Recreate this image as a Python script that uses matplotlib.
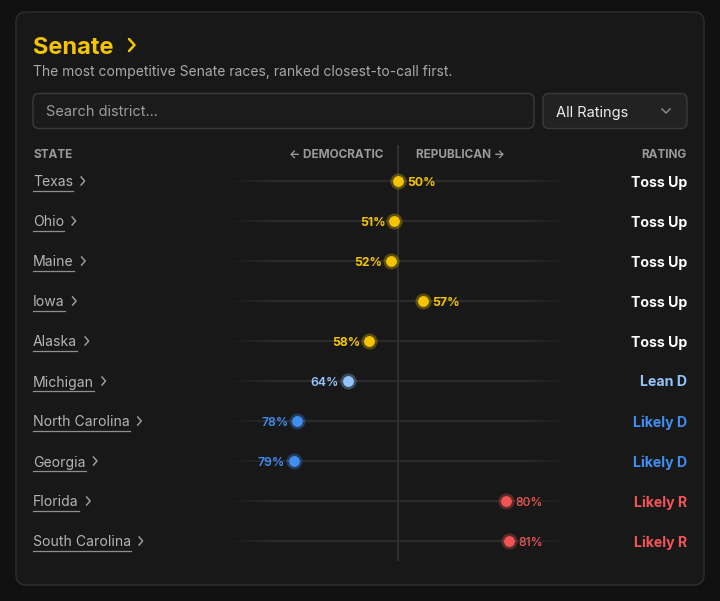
import numpy as np
import matplotlib
matplotlib.use('Agg')
import matplotlib.pyplot as plt
from matplotlib.patches import FancyBboxPatch
from matplotlib.collections import LineCollection

plt.rcParams['font.family'] = ['Inter', 'DejaVu Sans']

states = ['Texas', 'Ohio', 'Maine', 'Iowa', 'Alaska', 'Michigan',
          'North Carolina', 'Georgia', 'Florida', 'South Carolina']
probs = [50, 51, 52, 57, 58, 64, 78, 79, 80, 81]
sides = ['R', 'D', 'D', 'R', 'D', 'D', 'D', 'D', 'R', 'R']
ratings = ['Toss Up', 'Toss Up', 'Toss Up', 'Toss Up', 'Toss Up',
           'Lean D', 'Likely D', 'Likely D', 'Likely R', 'Likely R']

colors = {'Toss Up': '#f5c400', 'Lean D': '#93c5fd',
          'Likely D': '#3f8ef2', 'Likely R': '#f25454'}
text_col = {'Toss Up': '#ffffff', 'Lean D': '#93c5fd',
            'Likely D': '#3f8ef2', 'Likely R': '#f25454'}

BG = '#111111'
CARD = '#181818'

W, H = 720, 601
fig = plt.figure(figsize=(W / 100, H / 100), dpi=100, facecolor=BG)

# page / card layer in pixel units (y grows downward)
bg = fig.add_axes([0, 0, 1, 1])
bg.set_xlim(0, W)
bg.set_ylim(H, 0)
bg.axis('off')

bg.add_patch(FancyBboxPatch((16, 12), 688, 573, boxstyle='round,pad=0,rounding_size=10',
                            fc=CARD, ec='#2e2e2e', lw=1))

bg.text(33, 54, 'Senate', color='#f5c400', fontsize=17, fontweight='bold', va='baseline')
bg.plot([129, 134.5, 129], [39, 45, 51], color='#f5c400', lw=1.8, solid_capstyle='round',
        solid_joinstyle='round')
bg.text(33, 76, 'The most competitive Senate races, ranked closest-to-call first.',
        color='#a8a8a8', fontsize=10, va='baseline')

# search box + dropdown
bg.add_patch(FancyBboxPatch((33, 93.5), 501, 35, boxstyle='round,pad=0,rounding_size=6',
                            fc='#1b1b1b', ec='#3a3a3a', lw=1))
bg.text(46, 116.5, 'Search district...', color='#9c9c9c', fontsize=10.5, va='baseline')
bg.add_patch(FancyBboxPatch((543, 93.5), 144, 35, boxstyle='round,pad=0,rounding_size=6',
                            fc='#222222', ec='#3a3a3a', lw=1))
bg.text(556, 116.5, 'All Ratings', color='#ececec', fontsize=10.5, va='baseline')
bg.plot([662, 666, 670], [109, 113, 109], color='#8a8a8a', lw=1.1)

# headers
hdr = dict(color='#9a9a9a', fontsize=8.5, fontweight='bold', va='baseline')
bg.text(33, 157.5, 'STATE', ha='left', **hdr)
bg.text(383, 157.5, '← DEMOCRATIC', ha='right', **hdr)
bg.text(416, 157.5, 'REPUBLICAN →', ha='left', **hdr)
bg.text(687, 157.5, 'RATING', ha='right', **hdr)

fig.canvas.draw()
r = fig.canvas.get_renderer()
inv = bg.transData.inverted()

for i, (s, rt) in enumerate(zip(states, ratings)):
    y = 181 + 40 * i
    t = bg.text(33, y + 5.5, s, color='#b4b4b4', fontsize=10.1, va='baseline')
    bb = t.get_window_extent(r)
    x0, _ = inv.transform((bb.x0, bb.y0))
    x1, _ = inv.transform((bb.x1, bb.y0))
    bg.plot([x0, x1], [y + 9.5, y + 9.5], color='#8e8e8e', lw=0.9)
    cx = x1 + 8
    bg.plot([cx, cx + 3.5, cx], [y - 4, y, y + 4], color='#9a9a9a', lw=1.1)
    bg.text(687, y + 5.5, rt, color=text_col[rt], fontsize=10.2, fontweight='bold',
            ha='right', va='baseline')

# dot plot axis
ax = fig.add_axes([229 / W, 1 - 561 / H, 338 / W, 416 / H])
ax.set_xlim(-47, 47)
ax.set_ylim(9.5, -0.9)
ax.axis('off')
ax.patch.set_alpha(0)

ax.axvline(0, color='#2e2e2e', lw=1.6, zorder=1)

xs = np.linspace(-47, 47, 200)
fade = np.clip((47 - np.abs(xs)) / 12, 0, 1)
track = np.array(matplotlib.colors.to_rgb('#2b2b2b'))
card = np.array(matplotlib.colors.to_rgb(CARD))
seg_cols = [tuple(card + (track - card) * f) for f in fade[:-1]]
for i in range(len(states)):
    segs = [[(xs[k], i), (xs[k + 1], i)] for k in range(len(xs) - 1)]
    ax.add_collection(LineCollection(segs, colors=seg_cols, lw=1.6, zorder=0))

for i, (p, sd, rt) in enumerate(zip(probs, sides, ratings)):
    v = (p - 50) * (1 if sd == 'R' else -1)
    c = colors[rt]
    ax.plot(v, i, 'o', ms=11.5, color=c, alpha=0.3, mec='none', zorder=3)
    ax.plot(v, i, 'o', ms=7.8, color=c, mec='none', zorder=4)
    off = 6.5 if sd == 'R' else -6.5
    wt = 'bold' if rt == 'Toss Up' else 'semibold'
    if rt == 'Likely R':
        wt = 'medium'
    ax.annotate(f'{p}%', (v, i), xytext=(off, -3.4), textcoords='offset points',
                ha='left' if sd == 'R' else 'right', va='baseline',
                color=c, fontsize=8.8, fontweight=wt, zorder=5)

fig.savefig('out.png', dpi=100, facecolor=BG)
